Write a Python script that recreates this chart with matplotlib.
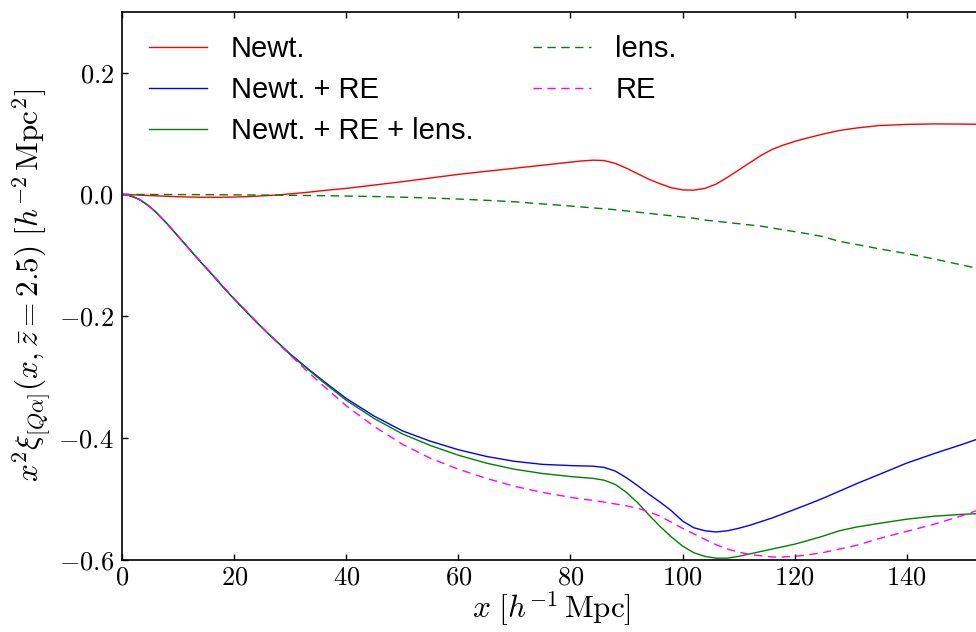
import matplotlib
matplotlib.use('Agg')
import matplotlib.pyplot as plt
from matplotlib.ticker import FuncFormatter, MultipleLocator

plt.rcParams['mathtext.fontset'] = 'cm'
plt.rcParams['font.family'] = ['Liberation Sans', 'DejaVu Sans']

# separation x [h^-1 Mpc]
x_vals = [0, 1, 2, 3, 4, 5, 6, 8, 10, 12, 14, 16, 18, 20, 22, 24, 26, 28, 30,
          33, 36, 40, 45, 50, 55, 60, 65, 70, 75, 80, 82, 84, 86, 88, 90, 92,
          94, 96, 98, 100, 102, 104, 106, 108, 110, 112, 114, 116, 118, 120,
          122, 125, 128, 131, 135, 140, 145, 150, 155]

newt = [0, -0.0002, -0.0005, -0.001, -0.0014, -0.0018, -0.0022, -0.003,
        -0.0037, -0.0042, -0.0045, -0.0046, -0.0045, -0.0042, -0.0036,
        -0.0028, -0.0018, -0.0006, 0.001, 0.0035, 0.0065, 0.010, 0.0155,
        0.021, 0.027, 0.033, 0.038, 0.043, 0.048, 0.053, 0.055, 0.0563,
        0.0557, 0.051, 0.043, 0.034, 0.025, 0.0175, 0.011, 0.0075, 0.007,
        0.010, 0.017, 0.028, 0.040, 0.052, 0.064, 0.074, 0.081, 0.087,
        0.092, 0.099, 0.105, 0.109, 0.113, 0.115, 0.1158, 0.1155, 0.115]

newt_re = [0, -0.001, -0.004, -0.008, -0.014, -0.021, -0.029, -0.048, -0.069,
           -0.090, -0.111, -0.131, -0.152, -0.172, -0.191, -0.210, -0.228,
           -0.245, -0.262, -0.285, -0.307, -0.335, -0.364, -0.388, -0.405,
           -0.419, -0.430, -0.438, -0.443, -0.445, -0.4455, -0.446, -0.448,
           -0.454, -0.465, -0.478, -0.492, -0.505, -0.519, -0.536, -0.547,
           -0.552, -0.554, -0.552, -0.548, -0.543, -0.537, -0.531, -0.524,
           -0.517, -0.510, -0.499, -0.487, -0.475, -0.460, -0.441, -0.425,
           -0.410, -0.394]

newt_re_lens = [0, -0.001, -0.004, -0.008, -0.014, -0.021, -0.029, -0.048,
                -0.069, -0.090, -0.111, -0.131, -0.152, -0.172, -0.191, -0.210,
                -0.228, -0.245, -0.263, -0.286, -0.309, -0.338, -0.368, -0.393,
                -0.412, -0.428, -0.441, -0.451, -0.458, -0.463, -0.4645,
                -0.466, -0.469, -0.476, -0.489, -0.506, -0.526, -0.545, -0.562,
                -0.577, -0.588, -0.594, -0.597, -0.597, -0.594, -0.590, -0.586,
                -0.582, -0.578, -0.574, -0.569, -0.561, -0.552, -0.546, -0.540,
                -0.533, -0.528, -0.525, -0.523]

lens = [0, 0, 0, 0, 0, 0, -0.0001, -0.0001, -0.0002, -0.0002, -0.0003,
        -0.0004, -0.0005, -0.0006, -0.0007, -0.0009, -0.001, -0.0012, -0.0014,
        -0.0017, -0.002, -0.0026, -0.0034, -0.0045, -0.0058, -0.0075, -0.0096,
        -0.012, -0.0155, -0.019, -0.0205, -0.022, -0.0235, -0.025, -0.027,
        -0.029, -0.031, -0.033, -0.035, -0.037, -0.039, -0.042, -0.044,
        -0.046, -0.048, -0.050, -0.052, -0.055, -0.058, -0.061, -0.064,
        -0.069, -0.077, -0.082, -0.089, -0.097, -0.106, -0.116, -0.126]

re = [0, -0.001, -0.004, -0.008, -0.014, -0.021, -0.029, -0.048, -0.069,
      -0.090, -0.110, -0.130, -0.151, -0.171, -0.190, -0.209, -0.228, -0.246,
      -0.264, -0.290, -0.315, -0.347, -0.381, -0.410, -0.433, -0.451, -0.466,
      -0.479, -0.489, -0.497, -0.500, -0.502, -0.505, -0.508, -0.511, -0.515,
      -0.521, -0.528, -0.538, -0.548, -0.557, -0.566, -0.575, -0.582, -0.587,
      -0.591, -0.593, -0.595, -0.595, -0.594, -0.592, -0.588, -0.582, -0.576,
      -0.565, -0.553, -0.541, -0.527, -0.511]

fig = plt.figure(figsize=(9.76, 6.32), dpi=100)
# the original is cropped: the right spine sits just past the figure edge
ax = fig.add_axes([0.1253, 0.1139, 0.8788, 0.8676])

dash = (6, 4)
ax.plot(x_vals, newt, color='#ff0000', lw=1.0, label='Newt.')
ax.plot(x_vals, newt_re, color='#0000ff', lw=1.0, label='Newt. + RE')
ax.plot(x_vals, newt_re_lens, color='#008000', lw=1.0,
        label='Newt. + RE + lens.')
ax.plot(x_vals, lens, color='#008000', lw=1.0, ls='--', dashes=dash,
        label='lens.')
ax.plot(x_vals, re, color='#ff00ff', lw=1.0, ls='--', dashes=dash, label='RE')

ax.set_xlim(0, 153.1)
ax.set_ylim(-0.6, 0.3)
ax.xaxis.set_major_locator(MultipleLocator(20))
ax.yaxis.set_major_locator(MultipleLocator(0.2))
ax.xaxis.set_major_formatter(FuncFormatter(lambda v, p: r'$%d$' % round(v)))
ax.yaxis.set_major_formatter(FuncFormatter(lambda v, p: r'$%.1f$' % v))
ax.tick_params(direction='in', top=True, right=False, length=4.5, width=1,
               labelsize=19)
ax.tick_params(axis='x', pad=4)
ax.tick_params(axis='y', pad=6)
for s in ax.spines.values():
    s.set_linewidth(1.2)

ax.set_xlabel(r'$x\ [h^{-1}\,\mathrm{Mpc}]$', fontsize=22.5, labelpad=0)
ax.set_ylabel(r'$x^2\xi_{[Q\alpha]}(x,\bar{z}=2.5)\ [h^{-2}\,\mathrm{Mpc}^2]$',
              fontsize=22.5, labelpad=4)

ax.legend(ncol=2, frameon=False, fontsize=21, loc='upper left',
          bbox_to_anchor=(0.0, 1.0055), handlelength=2.0, handletextpad=0.82,
          columnspacing=2.05, labelspacing=0.45, borderaxespad=0.5)

fig.savefig('out.png', dpi=100)
